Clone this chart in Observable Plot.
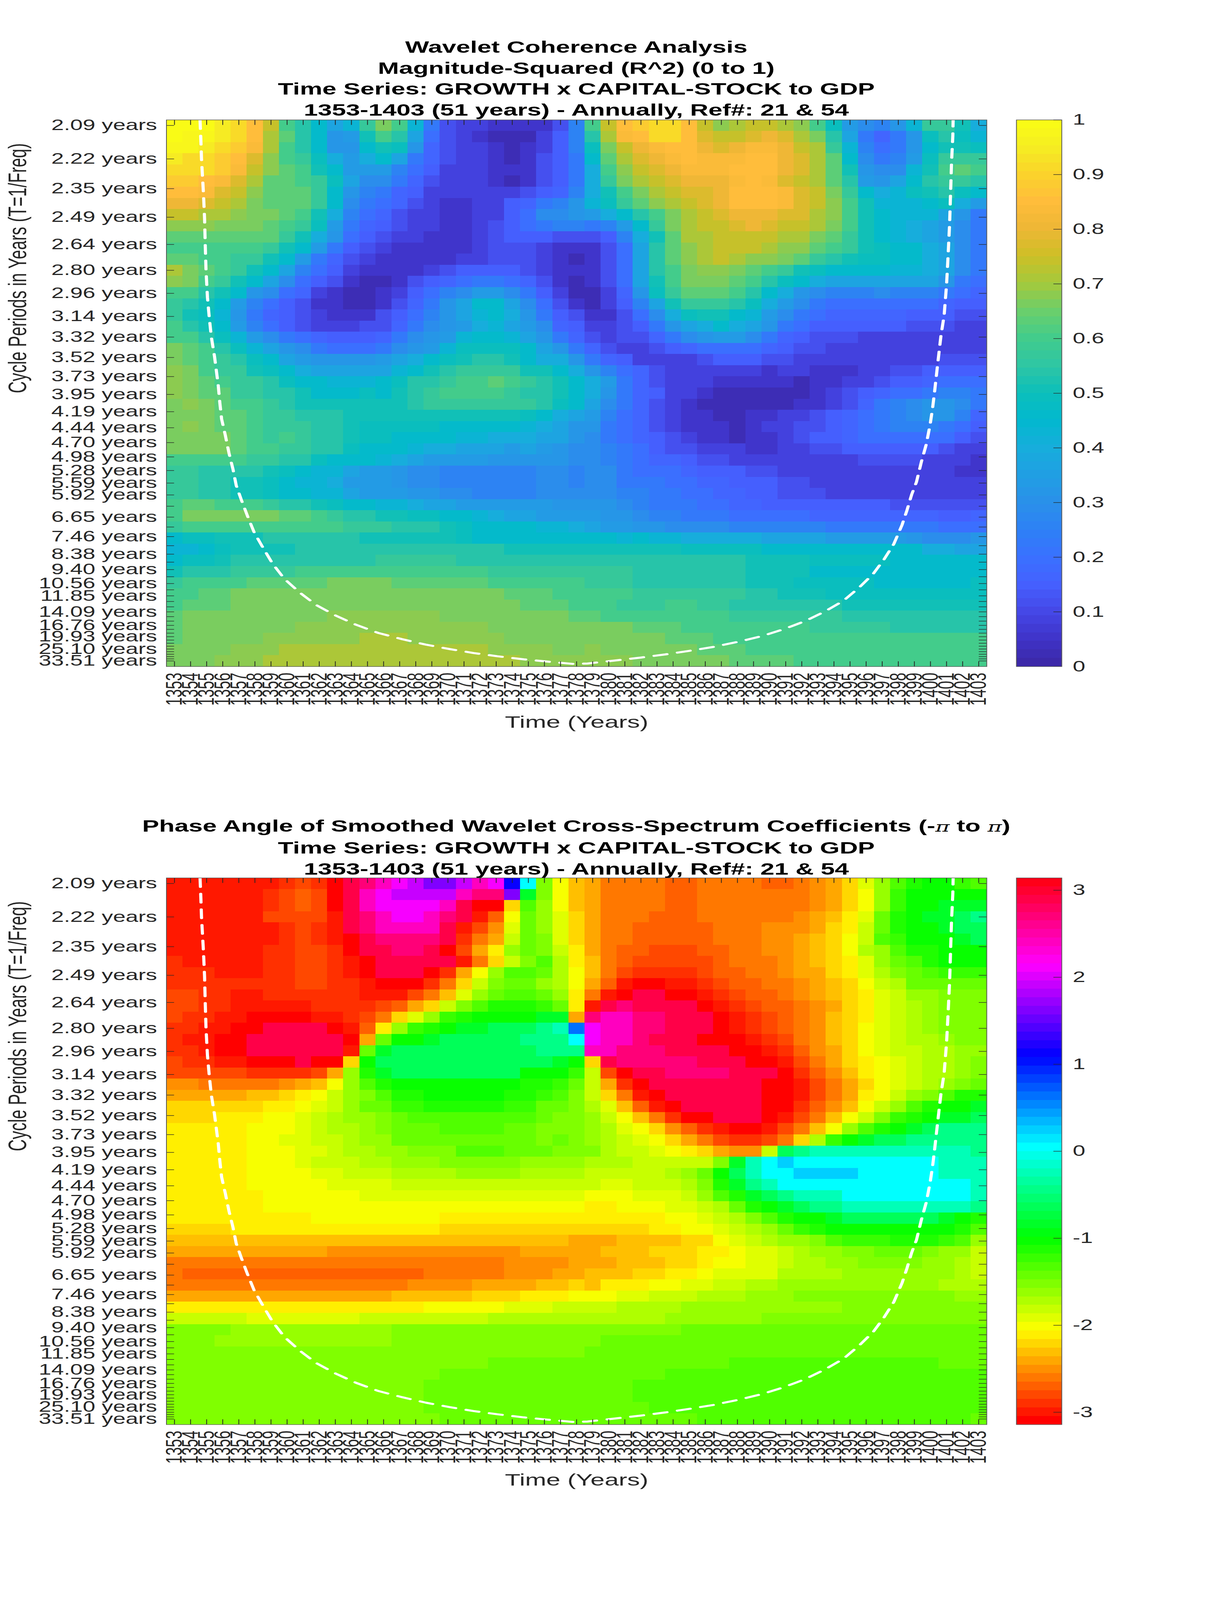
<!DOCTYPE html>
<html>
<head>
<meta charset="utf-8">
<script src="https://cdn.jsdelivr.net/npm/d3@7"></script>
<script src="https://cdn.jsdelivr.net/npm/@observablehq/plot@0.6"></script>
<style>
html,body{margin:0;padding:0;background:#fff;overflow:hidden}
#page{position:relative;width:3125px;height:6252px;overflow:hidden;background:#fff;font-family:"Liberation Sans",Arial,sans-serif;transform-origin:0 0}
.title{position:absolute;left:0;width:2950px;text-align:center;font-weight:bold;font-size:64.7px;line-height:82px;color:#000;white-space:nowrap}
.title i{font-family:"DejaVu Serif",serif;font-weight:normal;font-style:italic;font-size:56px}
</style>
</head>
<body>
<div id="page"></div>
<script>
// Period of each of the 49 wavelet scales (years)
const periods = [2.09,2.22,2.35,2.49,2.64,2.80,2.96,3.14,3.32,3.52,3.73,3.95,4.19,4.44,4.70,4.98,5.28,5.59,5.92,6.27,6.65,7.04,7.46,7.91,8.38,8.88,9.40,9.96,10.56,11.18,11.85,12.55,13.30,14.09,14.93,15.82,16.76,17.76,18.81,19.93,21.12,22.37,23.70,25.10,26.60,28.18,29.85,31.63,33.51];
// Periods carrying a tick label
const labeledPeriods = [2.09,2.22,2.35,2.49,2.64,2.80,2.96,3.14,3.32,3.52,3.73,3.95,4.19,4.44,4.70,4.98,5.28,5.59,5.92,6.65,7.46,8.38,9.40,10.56,11.85,14.09,16.76,19.93,25.10,33.51];
const years = d3.range(1353, 1404);

// Coherence per row (one scale), one character per year: base-36 index, 0 -> 0, z -> 1; capitals sit half a step higher
const coherenceRows = [
"zzzxwuqljg dfknlf8433 222249lquv wwuqopqqpo lhca9bfkki e",
"zyyxwupmjg bciljd7432 111359jptu wwurqqrsrp njd868bhjh f",
"yyxwvtpljg bbgihb6433 212359hnqs tuusrsttsq pkf978bgii h",
"xwwvurolkh ecegd86433 212458gmpr stutttuusr pmga89chkk k",
"wwwvtqomli gccc975333 222458eloq rstttuuusr pmibaafilm l",
"vvutrpmmlk hdaa864333 212458eknp qrssstutrq pmjcbdgjkk j",
"uutrqommmk gb98653333 334569eiln pqrrsuuutr qnkgefhijh g",
"ssrqpnmmmk ga87643223 35689bfhkm opqrsuuutr qolifffghe c",
"qqpponnmli e976433223 357aabcegj lnpqrsssrr poligfffdb 8",
"ooonnnmlkh c865433223 45789989cg knpqqrsrqq pnligfedca 8",
"mmmmmmmkie b754332223 455544459e imppqqqqpp nmkigfedca 8",
"llllllkigc 8543222223 444322247d jmopqqqpoo mlkihggeda 8",
"mmllkkigc8 6432222233 444321247d jmopqpoonm kjihhggeda 8",
"pnmlkigd97 5322223455 554322247d jlnoonmlki hggggffeda 8",
"onlkigda75 4211245678 876421247d ilnnnmljhg edddddddb8 7",
"lljigba763 21123579ac ca8531136b hkmmmljgeb a999a99987 6",
"kjigc97542 2112468bdg gda7421359 dikkkjheca 8777777765 5",
"kihfb86543 2224579bdf geb8542247 aehiigfca8 7666665554 4",
"ljigc97543 334468abce fdca653345 8bdegedb87 5555554443 3",
"lljhfca876 55568abcfg gfdb864344 68abcca865 4443333333 3",
"nmljhfdba8 7778abcfhh hhgdb86433 4567777654 4333333333 3",
"nmlkjhgdcb bbbcdeghij jigeeb8653 3334555443 3333333344 4",
"onlkkihged ddddfgijkk kkiigeb976 4333333233 2223344555 5",
"onmlkkjhgg fffghjjkll mlkjigec86 4333222221 2233455677 7",
"onmmkkjjig gghgijklll lkjjigeb86 5332111111 2345677899 8",
"nonmllkjii iiiiijkkkk kkkjhgda86 4321111112 234689abba 8",
"nnnmmlkkjj jiiiiiiiii iihgedc976 4322112233 456789abb9 6",
"nonmmlkkkj jihhhhhggg ggfedbb876 4322212334 4567899987 5",
"nnnnmlklkj jihhggggff eeeddba876 5432212234 5567777775 4",
"nnnnmllkkj jhgggfeedd dcdcbaa987 5443332233 4455555543 3",
"lllllkkjjh gggfedcccc bbbbbaa987 6654433333 3334444333 2",
"kkjjjjihgf fdccbaa999 999aa9aa87 7765554433 3333333332 2",
"kkjjiihgff ecccbaa999 999aa9aa88 8776655544 3333333333 3",
"kkjjiihggf fdcccbbaa9 999aaaaa99 8877665544 4333333333 3",
"lmmlllkjji hggffeddcc ccccbbbba9 8887766555 5555544444 4",
"lnnnnnnmml kjjiihhggf eddccccbba 9988877777 6666666655 6",
"klllllllll lkkkjjjihg gggffedccb baaaa99999 9888888877 7",
"ghhiiijjjj jjiiiiiihg ggggggggfg ffeeeeeddd dcccccbaaa b",
"ffghiiiijj jjjjjjjjjj jiiiiiiiii iihhhhhggg gggggggeed d",
"ghhijjjjjj jjjkkkkkjj jjjjjjjjjj jjjjjjiiii hhhhhggggg g",
"ijjjkkkkll llllllllll kkkkkkkkkj jjjjjjiiii gggggggggg g",
"kllllmmmmm nnnnmmmmmm llllllkkkj jjjjjjiiih hhhhgggggg h",
"llmmnnnNNN NNNNNNNnnn nmmmlllllk kkkkkkjjii ihhhhhhhhh h",
"lmmmnnnNNN NNNNNNNNNn nnmmmlllkk kllkkjjjjj jjiiiiiiii i",
"mnnnnnNNNN oooooooNNN NNnnnmmlll lllllkkkkk kkjjjjjjjj j",
"mnNNNNNNoo oooooooooo NNNnnNnnnm mmllllllll kkkkkjjjjj j",
"mnnNNNoooo oopppooooo oNNNNnNNnn nmmmllllll llllllllll l",
"nNNNoooppp pppppppppp oooonNoNNN nnnmmmllll llllllllll l",
"NNNooopppp pppppppppp ppoooooooN NNnnnmmmml llllllllll l"
];

// Phase per row, one character per year; each character names a level of the 64-step colormap
const phaseRows = [
"1111111232 0zyxwvuuvx wtqgb87555 5445555445 679cfikllj i",
"1111112343 0zxwvvvvxy yumgb87555 5445555555 679bfjllll l",
"1111112343 0zxwwwwxz0 09ifb87555 5445555555 679bfjllmm m",
"1111113333 1zyxwwxyz1 4bhfc97555 4445555556 78achklmmn o",
"1111111232 1zyxxxxz13 6chfc97554 4444555666 79adhkllmn n",
"1111111232 10zyyyyz25 7dhgc97554 4444555667 89bdijlllm n",
"1111112233 20zzyyz037 afhgda7544 3334455667 89befikkll l",
"2111112233 210zzzzz15 9dgiea8543 3333455567 89acfhikll l",
"2221112233 210zzz027b fiiheb8532 2223445567 79aceghijj j",
"2222222233 221000259d ghhfeb7410 0112344556 789bdehhhh h",
"3322112222 22111358cf hiihfa510z z001234456 789acdffgg g",
"3322111112 2223479dgi kkkjha1zyz zzz0123445 679acdefgg g",
"3221100001 12359cfjkl lllmm7yxxy yzzz012345 689acdefgg g",
"221100zzzz 014afjklmm nnnopswxxy yzzz012345 689bcdefgg g",
"21100zzzzz z07hllmnnn nnoooqwxxy zzz0001235 689bcdeefg g",
"22100zzzzz z1hmnnnnnn nnnoooxxyy yzzzz00124 679bcddeef f",
"32211000z0 09lnnnnnnn nnnnml9zyy yyyzzz0013 579abcdeef g",
"3333322223 7fkmnnnnnn nnllljd30z zyyyyzzz02 468abcdeef g",
"6655555678 bfikllllll llkkjhd720 zzzzzzz001 3579bcdefg h",
"77777889ab dfgikkllll lkkjigd951 0zzzzzz001 357abdfgik k",
"999999aabc dfhhjjkkkk kjjhhgec84 10zzzzz002 468bdfikll m",
"999aaabbcd effghiiiii iiihggfdb8 5200zzz013 58bdgjklmm n",
"aaaaabbbcd eefghhhiii ihhgggfecb 9642100135 8bfiklmnoo o",
"aaaaabbccd deffhhhhhh hhhghgfedc b975322359 ejlmnnoooo o",
"aaaaabbbcc deeffgggii ihhhgggedd cba9766dno pppppppppp o",
"aaaaabbbcd ddeefffggg ggffffeeed ddddgmpqrq qqqqqqqqpp p",
"aaaaabbbbc cdddeeeeff ffeeeedddd defhlnpqqr rrrqqqqqpp p",
"aaaaabbbbb ccccdddddd dddddddccd ddegkmopqq qqqqqqqqqq p",
"aaaaaabbbb bbcccccccc ccccccbbbc ccdfikmnop ppqqqqqqqq p",
"aaaaaabbbb bbbbbbbbbb bbbbbbaabb bccdehklmn oopppppppp o",
"aaaaaaaaab bbbbbbbaaa aaaaaaaaaa abbcdegikl lmnnnnnnml k",
"9999aaaaaa aaaaaaa999 9999999999 aabbcdefhj kllllllllk i",
"8888888888 8888888888 8888877788 8899bcdeff gijjjkkkji f",
"7777777777 6666666666 6677777888 999aabccde ffgghhhgff d",
"5555555555 5555555555 5666677788 899abbccde effggggffe d",
"5444444444 4444445555 5666778889 9aabccccee eefffffffe d",
"5555555555 5555566667 7778898aaa bbccddeeff ffffffffee e",
"7777777777 7777888889 99aaabbbcc dddeeefffg gggggggggf f",
"aaaaaaaaaa aaaaaabbbb bcccddddee eeffffffff ffgggggggg g",
"dddddccccc ccdddddddd eeeeeeeeee effffffggg gggggggggg g",
"ggggffffff ffffgggggg gggggggggg gghhhhhhhh hhhhhhhhhh h",
"gggfffffff ffffgggggg ggggggghhh hhhhhhhhhh hhhhhhhhhh h",
"gggggggggg gggggggggg gggggghhhh hhhhhhhhhh hhhhhhhhhh h",
"gggggggggg gggggggggg hhhhhhhhhh hhhhhiiiii iiiiiiiihh h",
"gggggggggg ggggggghhh hhhhhhhhhh hiiiiiiiii iiiiiiiiii i",
"gggggggggg gggggghhhh hhhhhhhhhi iiiiiiiiii iiiiiiiiii i",
"gggggggggg gggggghhhh hhhhhhhhhi iiiiiiiiii iiiiiiiiii i",
"gggggggggg gggggghhhh hhhhhhhhhh iiiiiiiiii iiiiiiiiii i",
"gggggggggg ggggggghhh hhhhhhhhhh hhhiiiiiii iiiiiiiiii h"
];
const phaseAlphabet = "0123456789abcdefghijklmnopqrstuvwxyz";
const phaseLevels = [0,1,2,3,4,5,6,7,8,9,10,11,12,13,14,15,16,17,18,19,20,21,23,25,27,29,32,34,38,43,48,51,53,56,59,61];

// Cone of influence: year and frequency (cycles per year)
const coiYear = [1354.59,1354.64,1354.68,1354.73,1354.80,1354.87,1354.91,1354.96,1355.05,1355.16,1355.29,1355.49,1355.72,1355.82,1355.93,1356.16,1356.39,1356.64,1356.84,1357.16,1357.54,1357.95,1358.53,1359.10,1359.84,1360.78,1361.81,1363.05,1364.28,1365.67,1367.15,1368.63,1370.11,1371.59,1373.07,1374.71,1376.19,1377.75,1378.68,1380.5,1382,1383.5,1385,1386.5,1388.05,1389.5,1390.87,1392.18,1393.45,1394.6,1395.6,1396.45,1397.12,1397.72,1398.23,1398.53,1398.83,1399.13,1399.43,1399.74,1399.98,1400.13,1400.25,1400.45,1400.65,1400.85,1401.0,1401.1,1401.19,1401.25,1401.31,1401.39,1401.41];
const coiFreq = [.4829,.4661,.4503,.4383,.4217,.4006,.3796,.3570,.3344,.3179,.3013,.2848,.2607,.2460,.2325,.2189,.2039,.1903,.1768,.1647,.1512,.1377,.1241,.1113,.0985,.0872,.0767,.0677,.0602,.0533,.0481,.0435,.0398,.0365,.0338,.0312,.0293,.0274,.0277,.0304,.0327,.0353,.0383,.0416,.0459,.0506,.0564,.0631,.0714,.0804,.0918,.1030,.1151,.1278,.1437,.1557,.1692,.1798,.1964,.2114,.2280,.2415,.2547,.2788,.3021,.3194,.3450,.3706,.3961,.4218,.4474,.4699,.4829];

// Colorbar key colours of the coherence map, at 0, 0.05 ... 1
const coherenceKeys = ["#3B27A5","#3F33C8","#4547E6","#4560FF","#3A70FF","#2D80F5","#2A90EA","#209FE3","#17ADDC","#02B8CF","#0CBFBB","#2EC6A4","#42CC8C","#6ACF6C","#A3C93D","#CDBF26","#EDB735","#FFBC3B","#FBD32B","#F5ED22","#FAFE14"];
const coherenceTicks = [0,.1,.2,.3,.4,.5,.6,.7,.8,.9,1];
const phaseTicks = [-3,-2,-1,0,1,2,3];

const coherenceRamp = d3.piecewise(d3.interpolateRgb, coherenceKeys);
const coherenceInterp = t => coherenceRamp((Math.min(63, Math.floor(t * 64)) + .5) / 64);
const phaseInterp = t => d3.hsl(Math.min(63, Math.floor(t * 64)) * 5.625, 1, .5).formatHex();

const cells = (rows, decode) => rows.flatMap((row, r) =>
  [...row.replace(/ /g, "")].map((c, i) => ({year: years[i], row: r, v: decode(c)})));
const coherenceCells = cells(coherenceRows, c => (parseInt(c, 36) + (c >= "A" && c <= "Z" ? .5 : 0)) / 35);
const phaseCells = cells(phaseRows, c => -Math.PI + (phaseLevels[phaseAlphabet.indexOf(c)] + .5) / 64 * 2 * Math.PI);

const TEXT = "#262626", FONT = '"Liberation Sans",Arial,sans-serif';
const page = document.getElementById("page");
const fTop = 1 / periods[0], fBot = 1 / periods[periods.length - 1];
const step = (fTop - fBot) / (periods.length - 1);
const rowEdge = r => fTop + step / 2 - r * step;

function heatmap(data, domain, interpolate, top) {
  const W = 2099.5, H = 2136, mL = 425.5, mT = 30;
  const svg = Plot.plot({
    width: 2560, height: 2500,
    marginLeft: mL, marginRight: 2560 - mL - W, marginTop: mT, marginBottom: 2500 - mT - H,
    x: {domain: [years[0] - .5, years[years.length - 1] + .5]},
    y: {domain: [rowEdge(periods.length), rowEdge(0)]},
    color: {type: "linear", domain, interpolate},
    style: {fontFamily: FONT, background: "transparent", color: TEXT, overflow: "visible"},
    marks: [
      Plot.rect(data, {
        x1: d => d.year - .5, x2: d => d.year + .5,
        y1: d => rowEdge(d.row + 1), y2: d => rowEdge(d.row),
        fill: "v", shapeRendering: "crispEdges"
      }),
      Plot.line(coiYear.map((x, i) => ({x, y: coiFreq[i]})), {x: "x", y: "y", stroke: "#fff", strokeWidth: 8, strokeDasharray: "34 27"}),
      Plot.ruleX(years, {x: d => d, insetTop: H - 20, stroke: TEXT, strokeWidth: 2}),
      Plot.ruleX(years, {x: d => d, insetBottom: H - 20, stroke: TEXT, strokeWidth: 2}),
      Plot.ruleY(periods, {y: d => 1 / d, insetRight: W - 20, stroke: TEXT, strokeWidth: 2}),
      Plot.ruleY(periods, {y: d => 1 / d, insetLeft: W - 20, stroke: TEXT, strokeWidth: 2}),
      Plot.frame({stroke: "#555", strokeWidth: 2}),
      Plot.axisX({ticks: years, tickFormat: d => String(d), tickRotate: -90, tickSize: 0, tickPadding: 24, fontSize: 58, label: null}),
      Plot.axisY({ticks: labeledPeriods.map(p => 1 / p), tickFormat: f => `${(1 / f).toFixed(2)} years`, tickSize: 0, tickPadding: 24, fontSize: 58, label: null}),
      Plot.text(["Time (Years)"], {frameAnchor: "bottom", dy: 218, text: d => d, fontSize: 65, fill: TEXT, lineAnchor: "middle"}),
      Plot.text(["Cycle Periods in Years (T=1/Freq)"], {frameAnchor: "left", dx: -380, rotate: -90, text: d => d, fontSize: 65, fill: TEXT, lineAnchor: "middle"})
    ]
  });
  svg.style.position = "absolute"; svg.style.left = "0px"; svg.style.top = (top - mT) + "px";
  svg.style.maxWidth = "none";
  page.appendChild(svg);
}

function colorbar(domain, interpolate, ticks, fmt, top) {
  const W = 116, H = 2136, mT = 30, mL = 40;
  const lv = (domain[1] - domain[0]) / 64;
  const svg = Plot.plot({
    width: 400, height: 2200,
    marginLeft: mL, marginRight: 400 - mL - W, marginTop: mT, marginBottom: 2200 - mT - H,
    y: {domain},
    color: {type: "linear", domain, interpolate},
    style: {fontFamily: FONT, background: "transparent", color: TEXT, overflow: "visible"},
    marks: [
      Plot.rect(d3.range(64), {
        y1: i => domain[0] + i * lv, y2: i => domain[0] + (i + 1) * lv,
        fill: i => domain[0] + (i + .5) * lv, shapeRendering: "crispEdges"
      }),
      Plot.ruleY(ticks, {y: d => d, insetLeft: W - 21, stroke: TEXT, strokeWidth: 2}),
      Plot.frame({stroke: "#555", strokeWidth: 2}),
      Plot.axisY({anchor: "right", ticks, tickFormat: fmt, tickSize: 0, tickPadding: 28, fontSize: 58, label: null})
    ]
  });
  svg.style.position = "absolute"; svg.style.left = "2561px"; svg.style.top = (top - mT) + "px";
  svg.style.maxWidth = "none";
  page.appendChild(svg);
}

function title(lines, top) {
  const d = document.createElement("div");
  d.className = "title"; d.style.top = top + "px";
  d.innerHTML = lines.join("<br>");
  page.appendChild(d);
}

title(["Wavelet Coherence Analysis",
       "Magnitude-Squared (R^2) (0 to 1)",
       "Time Series: GROWTH x CAPITAL-STOCK to GDP",
       "1353-1403 (51 years) - Annually, Ref#: 21 &amp; 54"], 143);
heatmap(coherenceCells, [0, 1], coherenceInterp, 468);
colorbar([0, 1], coherenceInterp, coherenceTicks, d => String(d), 468);

title(["Phase Angle of Smoothed Wavelet Cross-Spectrum Coefficients (-<i>π</i> to <i>π</i>)",
       "Time Series: GROWTH x CAPITAL-STOCK to GDP",
       "1353-1403 (51 years) - Annually, Ref#: 21 &amp; 54"], 3187);
heatmap(phaseCells, [-Math.PI, Math.PI], phaseInterp, 3430);
colorbar([-Math.PI, Math.PI], phaseInterp, phaseTicks, d => String(d), 3430);

// The window may be shorter than the 6252px figure: fit its whole height into it
page.style.transform = `scale(1,${Math.min(1, window.innerHeight / 6252)})`;
</script>
</body>
</html>
